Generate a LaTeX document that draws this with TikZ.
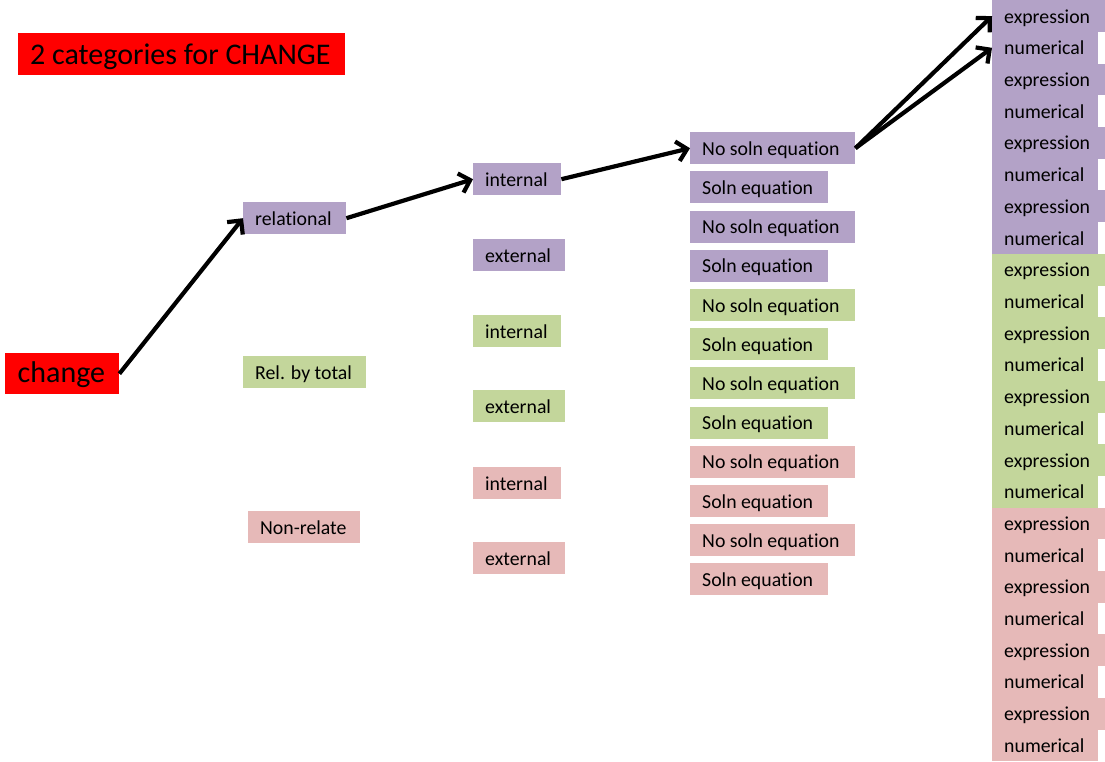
\documentclass[tikz,border=0pt]{standalone}
\usepackage{fontspec}
\setmainfont{Carlito}[Ligatures=NoCommon]
\usetikzlibrary{arrows.meta}
\definecolor{cred}{HTML}{FF0000}
\definecolor{col0}{HTML}{B3A2C7}
\definecolor{col1}{HTML}{C3D69B}
\definecolor{col2}{HTML}{E6B9B8}
\newcommand{\lbx}[2]{\makebox[#1][l]{#2}}
\tikzset{
  bx/.style={rectangle, anchor=north west, inner xsep=12pt, inner ysep=0pt,
    font=\fontsize{19.8}{22}\selectfont, text height=16pt, text depth=2pt, minimum height=32pt},
  big/.style={bx, fill=cred, font=\fontsize{30}{33}\selectfont, text height=23pt, text depth=3pt},
  arr/.style={line width=4.2pt, -{Straight Barb[length=10pt,width=20pt]}}
}
\begin{document}
\begin{tikzpicture}[x=1pt,y=-1pt]
\useasboundingbox (0,0) rectangle (1105,761);
\node[big, minimum height=42pt] (title) at (18,33) {\lbx{303pt}{2 categories for CHANGE}};
\node[big, minimum height=41pt, inner xsep=12.5pt, text height=22pt, text depth=4pt] (change) at (5,353) {\lbx{89pt}{change}};
\node[bx, fill=col0] (rel) at (243,202) {\lbx{79pt}{relational}};
\node[bx, fill=col1] (tot) at (243,356) {\lbx{99pt}{Rel. by total}};
\node[bx, fill=col2] (non) at (248,511) {\lbx{88pt}{Non-relate}};
\node[bx, fill=col0] (int1) at (473,163) {\lbx{64pt}{internal}};
\node[bx, fill=col0] (ext1) at (473,239) {\lbx{68pt}{external}};
\node[bx, fill=col1] (int2) at (473,315) {\lbx{64pt}{internal}};
\node[bx, fill=col1] (ext2) at (473,390) {\lbx{68pt}{external}};
\node[bx, fill=col2] (int3) at (473,467) {\lbx{64pt}{internal}};
\node[bx, fill=col2] (ext3) at (473,542) {\lbx{68pt}{external}};
\foreach \i in {0,...,11}{
  \pgfmathtruncatemacro\g{\i/4}
  \pgfmathsetmacro\yy{132+39.2*\i}
  \ifodd\i
    \node[bx, fill=col\g] (s\i) at (690,\yy) {\lbx{114pt}{Soln equation}};
  \else
    \node[bx, fill=col\g] (s\i) at (690,\yy) {\lbx{141pt}{No soln equation}};
  \fi
}
\foreach \i in {0,...,23}{
  \pgfmathtruncatemacro\g{\i/8}
  \pgfmathsetmacro\yy{761/24*\i}
  \ifodd\i
    \node[bx, fill=col\g, minimum height=31.8pt] (e\i) at (992,\yy) {\lbx{82pt}{numerical}};
  \else
    \node[bx, fill=col\g, minimum height=31.8pt] (e\i) at (992,\yy) {\lbx{89pt}{expression}};
  \fi
}
\draw[arr] (change.east) -- (rel.west);
\draw[arr] (rel.east) -- (int1.west);
\draw[arr] (int1.east) -- (s0.west);
\draw[arr] (s0.east) -- (e0.west);
\draw[arr] (s0.east) -- (e1.west);
\end{tikzpicture}
\end{document}
